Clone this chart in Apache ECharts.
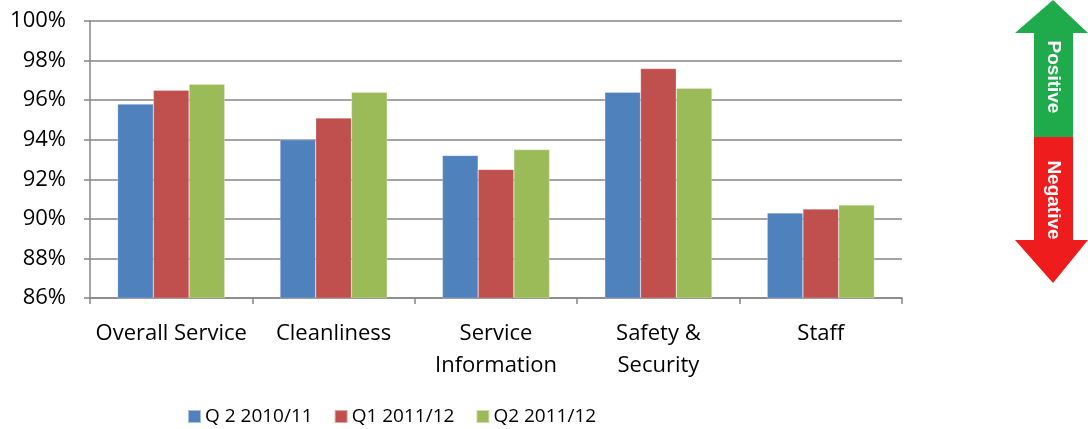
<!DOCTYPE html>
<html>
<head>
<meta charset="utf-8">
<script src="https://cdn.jsdelivr.net/npm/echarts@6/dist/echarts.min.js"></script>
<style>
  html, body { margin: 0; padding: 0; background: #fff; }
  #chart { width: 1088px; height: 429px; }
</style>
</head>
<body>
<div id="chart"></div>
<script>
// 数据
const categories = ['Overall Service', 'Cleanliness', 'Service\nInformation', 'Safety &\nSecurity', 'Staff']
const q2_1011 = [95.8, 94.0, 93.2, 96.4, 90.3]
const q1_1112 = [96.5, 95.1, 92.5, 97.6, 90.5]
const q2_1112 = [96.8, 96.4, 93.5, 96.6, 90.7]
const seriesNames = ['Q 2 2010/11', 'Q1 2011/12', 'Q2 2011/12']
const colors = ['#4f81bd', '#c0504d', '#9bbb59']

const font = '"Open Sans", sans-serif'
const chart = echarts.init(document.getElementById('chart'))

const makeSeries = (name, data, color) => ({
  name,
  type: 'bar',
  data,
  barGap: '0%',
  barCategoryGap: '34%',
  itemStyle: { color, borderColor: 'rgba(255,255,255,0.5)', borderWidth: 0.5 }
})

const option = {
  animation: false,
  grid: { left: 90, right: 186, top: 21, bottom: 131 },
  legend: {
    top: 407,
    left: 187,
    padding: 0,
    itemWidth: 13,
    itemHeight: 13,
    itemGap: 21,
    icon: 'rect',
    textStyle: { fontFamily: font, fontSize: 19, color: '#000', padding: [0, 0, 0, -1] },
    data: seriesNames
  },
  xAxis: {
    type: 'category',
    data: categories,
    axisLine: { lineStyle: { color: '#868686', width: 1.5 } },
    axisTick: { show: true, length: 6, lineStyle: { color: '#868686', width: 1.5 } },
    axisLabel: {
      fontFamily: font, fontSize: 22, color: '#000',
      margin: 20, lineHeight: 32, interval: 0
    }
  },
  yAxis: {
    type: 'value',
    min: 86,
    max: 100,
    interval: 2,
    axisLine: { show: true, lineStyle: { color: '#868686', width: 1.5 } },
    axisTick: { show: true, length: 6, lineStyle: { color: '#868686', width: 1.5 } },
    splitLine: { lineStyle: { color: '#868686', width: 1.5 } },
    axisLabel: {
      fontFamily: font, fontSize: 22, color: '#000', margin: 24,
      formatter: v => v + '%'
    }
  },
  series: [
    makeSeries(seriesNames[0], q2_1011, colors[0]),
    makeSeries(seriesNames[1], q1_1112, colors[1]),
    makeSeries(seriesNames[2], q2_1112, colors[2])
  ],
  // 右侧箭头
  graphic: [
    {
      type: 'polygon',
      shape: { points: [[1053, 0], [1088, 33], [1073, 33], [1073, 137], [1034, 137], [1034, 33], [1015, 33]] },
      style: { fill: '#1faa4c' }
    },
    {
      type: 'polygon',
      shape: { points: [[1034, 137], [1073, 137], [1073, 240], [1088, 240], [1053, 283], [1015, 240], [1034, 240]] },
      style: { fill: '#ee1c1c' }
    },
    {
      type: 'text',
      x: 1053, y: 77, rotation: -Math.PI / 2,
      style: { text: 'Positive', fill: '#fff', font: 'bold 19px Arial, "Liberation Sans", sans-serif', align: 'center', verticalAlign: 'middle' }
    },
    {
      type: 'text',
      x: 1053, y: 200, rotation: -Math.PI / 2,
      style: { text: 'Negative', fill: '#fff', font: 'bold 19px Arial, "Liberation Sans", sans-serif', align: 'center', verticalAlign: 'middle' }
    }
  ]
}

chart.setOption(option)
window.addEventListener('resize', () => chart.resize())
</script>
</body>
</html>
